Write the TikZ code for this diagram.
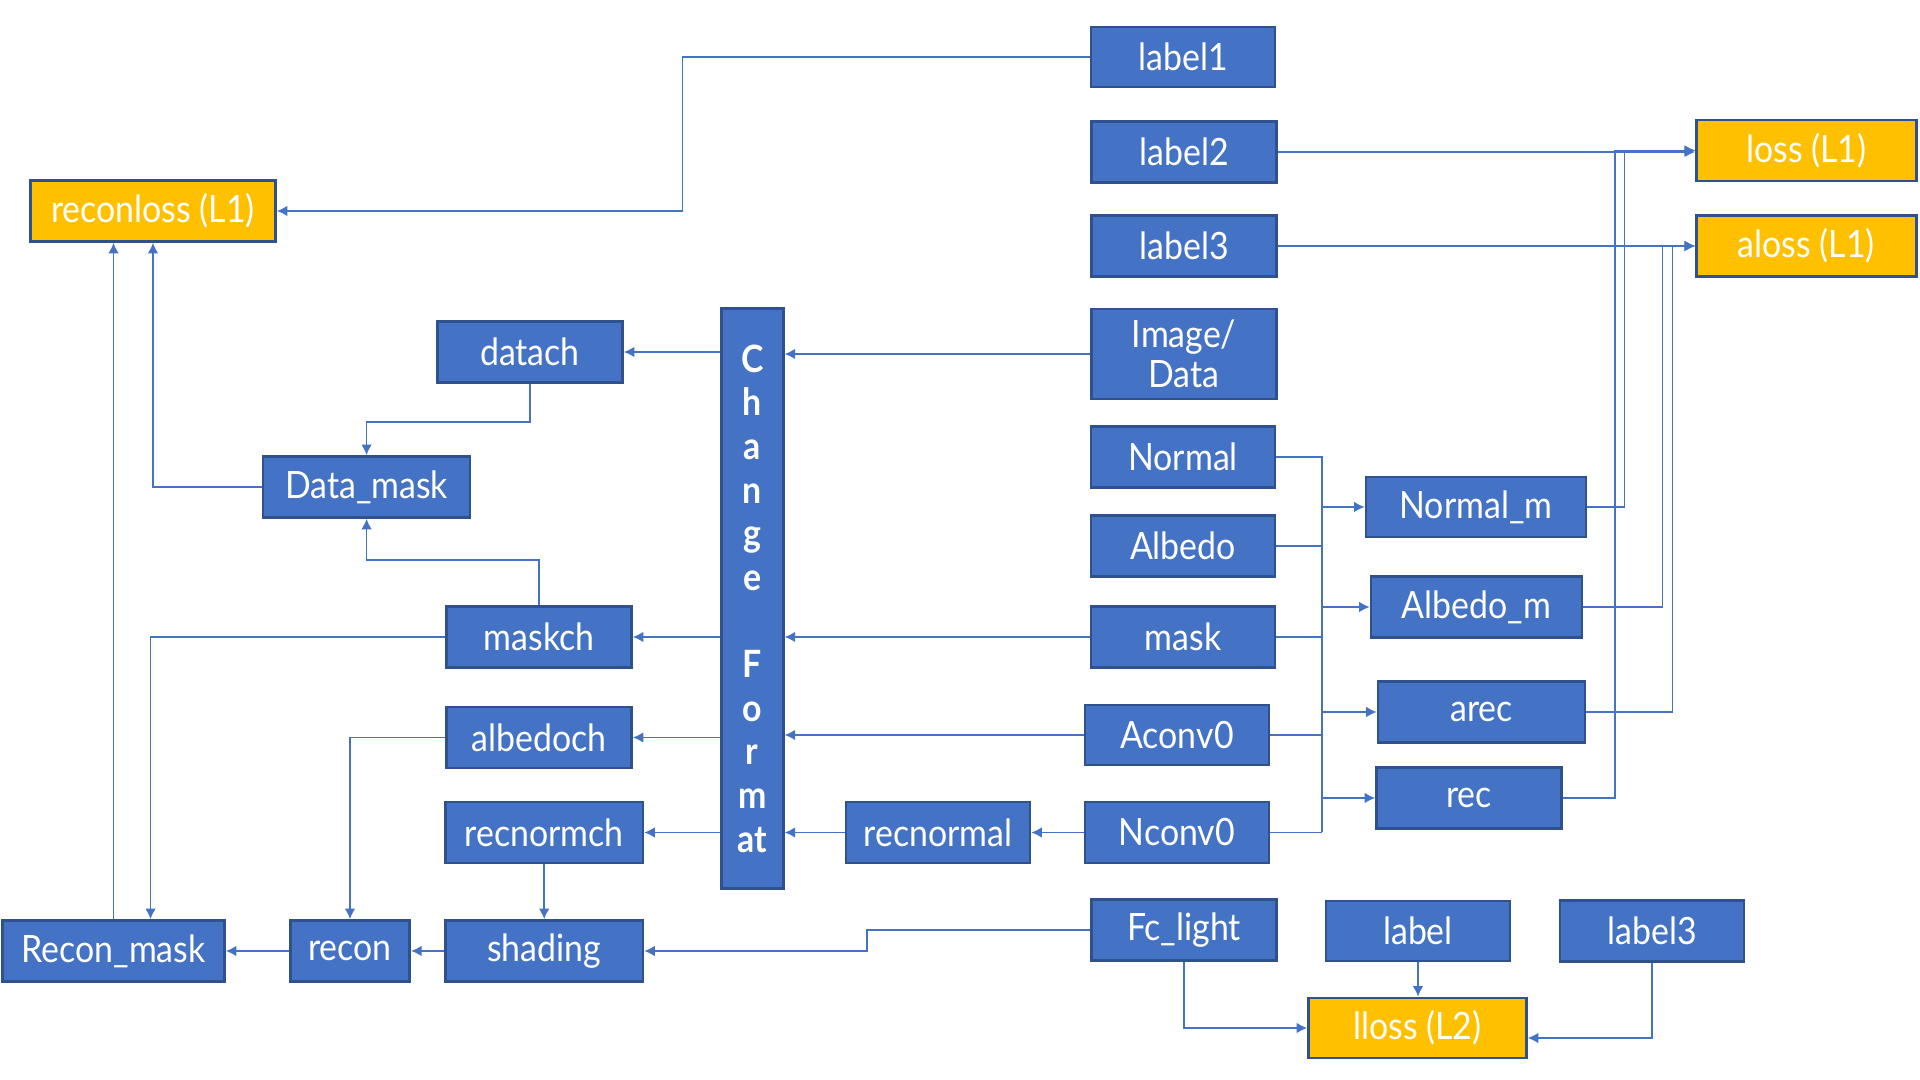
\documentclass[tikz,border=0pt]{standalone}
\usepackage{fontspec}
\setmainfont{Lato}[FakeStretch=0.9]
\usetikzlibrary{arrows.meta}
\definecolor{boxblue}{HTML}{4472C4}
\definecolor{boxedge}{HTML}{2F528F}
\definecolor{lossyel}{HTML}{FFC000}
\definecolor{linkblue}{HTML}{4472C4}
\tikzset{
  box/.style={draw=boxedge, line width=0.75pt, fill=boxblue, text=white, inner sep=0pt,
    font=\fontsize{10.7}{11.4}\selectfont, align=center},
  lossbox/.style={box, fill=lossyel},
  sz/.style 2 args={minimum width=#1*0.01cm, minimum height=#2*0.01cm},
  conn/.style={draw=linkblue, line width=0.45pt},
  arr/.style={conn, -{Latex[length=3pt,width=3pt]}},
}
\begin{document}
\begin{tikzpicture}[x=0.01cm, y=-0.01cm]
\useasboundingbox (0,0) rectangle (1920,1080);
% right column inputs
\node[box, sz={184}{60}] (label1) at (1183,57) {label1};
\node[box, sz={185}{61}] (label2) at (1184,152) {label2};
\node[box, sz={185}{61}] (label3) at (1184,246) {label3};
\node[box, sz={185}{90}] (imgdata) at (1184,354) {Image/\\Data};
\node[box, sz={184}{61}] (normal) at (1183,457) {Normal};
\node[box, sz={184}{61}] (albedo) at (1183,546) {Albedo};
\node[box, sz={184}{61}] (mask) at (1183,637) {mask};
\node[box, sz={184}{60}] (aconv0) at (1177,735) {Aconv0};
\node[box, sz={184}{61}] (nconv0) at (1177,832.5) {Nconv0};
\node[box, sz={184}{61}] (recnormal) at (938,832.5) {recnormal};
\node[box, sz={185}{61}] (fclight) at (1184,930) {Fc\_light};
\node[box, sz={184}{60}] (labelb) at (1418,931) {label};
\node[box, sz={184}{61}] (label3b) at (1652,931) {label3};
% masked outputs
\node[box, sz={220}{60}] (normalm) at (1476,507) {Normal\_m};
\node[box, sz={211}{61}] (albedom) at (1476.5,607) {Albedo\_m};
\node[box, sz={207}{61}] (arec) at (1481.5,712) {arec};
\node[box, sz={185}{61}] (rec) at (1469,798) {rec};
% change format
\node[box, sz={62}{580}, font=\fontsize{10.7}{12.4}\selectfont\bfseries] (chformat) at (752.3,598.6)
  {C\\h\\a\\n\\g\\e\\\mbox{}\\F\\o\\r\\m\\at};
% left side
\node[box, sz={185}{61}] (datach) at (530,352) {datach};
\node[box, sz={207}{61}] (datamask) at (366.6,487) {Data\_mask};
\node[box, sz={185}{61}] (maskch) at (539,637) {maskch};
\node[box, sz={185}{61}] (albedoch) at (539,737.5) {albedoch};
\node[box, sz={197.5}{61}] (recnormch) at (544.2,832.5) {recnormch};
\node[box, sz={197.5}{61}] (shading) at (544.2,951) {shading};
\node[box, sz={119.5}{61}] (recon) at (350,951) {recon};
\node[box, sz={222}{61}] (reconmask) at (113.5,951) {Recon\_mask};
% losses
\node[lossbox, sz={245}{61}] (reconloss) at (153,211) {reconloss (L1)};
\node[lossbox, sz={220}{61}] (loss) at (1806.4,150.5) {loss (L1)};
\node[lossbox, sz={220}{61}] (aloss) at (1806.4,246) {aloss (L1)};
\node[lossbox, sz={218}{60}] (lloss) at (1417.5,1028) {lloss (L2)};

% connectors
\draw[arr] (label1.west) -- ++(-407,0) |- (reconloss.east);
\draw[arr] (label2.east) -- (label2.east -| loss.west);
\draw[arr] (label3.east) -- (label3.east -| aloss.west);
\draw[arr] (imgdata.west) -- (imgdata.west -| chformat.east);
\draw[arr] (mask.west) -- (mask.west -| chformat.east);
\draw[arr] (aconv0.west) -- (aconv0.west -| chformat.east);
\draw[arr] (nconv0.west) -- (recnormal.east);
\draw[arr] (recnormal.west) -- (recnormal.west -| chformat.east);
\draw[arr] (chformat.west |- datach.east) -- (datach.east);
\draw[arr] (chformat.west |- maskch.east) -- (maskch.east);
\draw[arr] (chformat.west |- albedoch.east) -- (albedoch.east);
\draw[arr] (chformat.west |- recnormch.east) -- (recnormch.east);
\draw[arr] (datach.south) -- ++(0,38) -| (datamask.north);
\draw[arr] (maskch.north) -- ++(0,-45) -| (datamask.south);
\draw[arr] (datamask.west) -| (reconloss.south);
\draw[arr] (reconmask.north) -- (reconmask.north |- reconloss.south);
\draw[arr] (maskch.west) -| ([xshift=0.37cm]reconmask.north);
\draw[arr] (albedoch.west) -| (recon.north);
\draw[arr] (recnormch.south) -- (shading.north);
\draw[arr] (shading.west) -- (recon.east);
\draw[arr] (recon.west) -- (reconmask.east);
\draw[arr] (fclight.west) -- ++(-223,0) |- (shading.east);
\draw[arr] (fclight.south) |- (lloss.west);
\draw[arr] (labelb.south) -- (labelb.south |- lloss.north);
\draw[arr] (label3b.south) |- ([yshift=-0.1cm]lloss.east);
% bus
\coordinate (bustop) at (1322,457);
\coordinate (busbot) at (1322,832.5);
\draw[conn] (normal.east) -| (busbot);
\draw[conn] (nconv0.east) -- (nconv0.east -| busbot);
\draw[conn] (albedo.east) -- (albedo.east -| bustop);
\draw[conn] (mask.east) -- (mask.east -| bustop);
\draw[conn] (aconv0.east) -- (aconv0.east -| bustop);
\draw[arr] (normalm.west -| bustop) -- (normalm.west);
\draw[arr] (albedom.west -| bustop) -- (albedom.west);
\draw[arr] (arec.west -| bustop) -- (arec.west);
\draw[arr] (rec.west -| bustop) -- (rec.west);
% to losses
\draw[arr] (normalm.east) -- ++(37,0) |- (loss.west);
\draw[arr] (rec.east) -- ++(52,0) |- (loss.west);
\draw[arr] (albedom.east) -- ++(79,0) |- (aloss.west);
\draw[arr] (arec.east) -- ++(86,0) |- (aloss.west);
\end{tikzpicture}
\end{document}
